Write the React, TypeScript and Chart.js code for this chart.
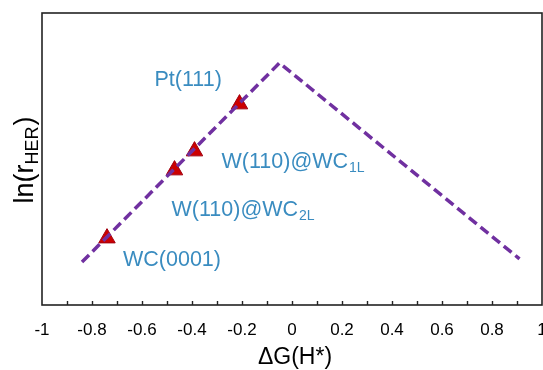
import React, { useEffect, useRef } from "react";
import { Chart, registerables } from "chart.js";

Chart.register(...registerables);

// Volcano (dashed) line: x = ΔG(H*), y = ln(r_HER) in arbitrary units
const volcanoX = [-0.84, -0.05, 0.91];
const volcanoY = [1.47, 8.29, 1.58];

// Catalyst points
const catalystNames = ["WC(0001)", "W(110)@WC2L", "W(110)@WC1L", "Pt(111)"];
const catalystX = [-0.74, -0.47, -0.39, -0.21];
const catalystY = [2.29, 4.62, 5.27, 6.88];

// label text: main part + subscript
const labelMain = ["WC(0001)", "W(110)@WC", "W(110)@WC", "Pt(111)"];
const labelSub = ["", "2L", "1L", ""];

const xTickLabels = ["-1", "-0.8", "-0.6", "-0.4", "-0.2", "0", "0.2", "0.4", "0.6", "0.8", "1"];

const FONT = "Arial, 'Liberation Sans', sans-serif";
const LABEL_COLOR = "#3a8cc0";

// label offsets (pixels, relative to each marker)
const labelOffsets = [
  [16, 28],
  [-3, 46],
  [27, 17],
  [-85, -18],
];

const decorPlugin = {
  id: "decor",
  afterDatasetsDraw(chart: any) {
    const ctx = chart.ctx;
    const a = chart.chartArea;
    const xs = chart.scales.x;
    ctx.save();
    // frame
    ctx.strokeStyle = "#222";
    ctx.lineWidth = 1.6;
    ctx.strokeRect(a.left, a.top, a.right - a.left, a.bottom - a.top);
    // inward minor ticks
    ctx.lineWidth = 1.4;
    for (let i = -9; i <= 9; i++) {
      const px = Math.round(xs.getPixelForValue(i / 10)) + 0.5;
      ctx.beginPath();
      ctx.moveTo(px, a.bottom);
      ctx.lineTo(px, a.bottom - 4);
      ctx.stroke();
    }
    // point labels
    const meta = chart.getDatasetMeta(1);
    ctx.fillStyle = LABEL_COLOR;
    ctx.textBaseline = "alphabetic";
    ctx.textAlign = "left";
    meta.data.forEach((el: any, i: number) => {
      const x = el.x + labelOffsets[i][0];
      const y = el.y + labelOffsets[i][1];
      ctx.font = `21.5px ${FONT}`;
      ctx.fillText(labelMain[i], x, y);
      if (labelSub[i]) {
        const w = ctx.measureText(labelMain[i]).width;
        ctx.font = `14px ${FONT}`;
        ctx.fillText(labelSub[i], x + w + 1, y + 4);
      }
    });
    // x title
    ctx.fillStyle = "#000";
    ctx.font = `23px ${FONT}`;
    ctx.textAlign = "center";
    ctx.fillText("ΔG(H*)", (a.left + a.right) / 2 + 3, 364);
    // y title (rotated, with subscript)
    ctx.translate(33, 160);
    ctx.rotate(-Math.PI / 2);
    ctx.textAlign = "left";
    const p1 = "ln(r";
    const p2 = "HER";
    const p3 = ")";
    ctx.font = `27px ${FONT}`;
    const w1 = ctx.measureText(p1).width;
    const w3 = ctx.measureText(p3).width;
    ctx.font = `18px ${FONT}`;
    const w2 = ctx.measureText(p2).width;
    const total = w1 + w2 + w3 + 1;
    let cx = -total / 2;
    ctx.font = `27px ${FONT}`;
    ctx.fillText(p1, cx, 0);
    cx += w1;
    ctx.font = `18px ${FONT}`;
    ctx.fillText(p2, cx, 5);
    cx += w2 + 1;
    ctx.font = `27px ${FONT}`;
    ctx.fillText(p3, cx, 0);
    ctx.restore();
  },
};

export default function App() {
  const ref = useRef<HTMLCanvasElement | null>(null);
  useEffect(() => {
    document.body.style.margin = "0";
    if (!ref.current) return;
    const chart = new Chart(ref.current, {
      type: "scatter",
      data: {
        datasets: [
          {
            type: "line",
            data: volcanoX.map((x, i) => ({ x, y: volcanoY[i] })),
            borderColor: "#7030a0",
            borderWidth: 3.5,
            borderDash: [10, 5],
            pointRadius: 0,
            fill: false,
            tension: 0,
            order: 0,
          } as any,
          {
            type: "scatter",
            data: catalystX.map((x, i) => ({ x, y: catalystY[i] })),
            pointStyle: "triangle",
            pointRadius: 9.5,
            backgroundColor: "#cc0000",
            borderColor: "#a00010",
            borderWidth: 1,
            order: 1,
          } as any,
        ],
      },
      options: {
        animation: false,
        responsive: false,
        maintainAspectRatio: false,
        layout: { autoPadding: false, padding: { top: 13, right: 1, left: 0, bottom: 0 } },
        plugins: { legend: { display: false }, tooltip: { enabled: false } },
        scales: {
          x: {
            type: "linear",
            min: -1,
            max: 1,
            grid: { display: false, drawTicks: false },
            border: { display: false },
            ticks: {
              stepSize: 0.2,
              padding: 15,
              color: "#000",
              font: { size: 17, family: FONT },
              callback: (_v: any, i: number) => xTickLabels[i],
            },
            afterFit: (s: any) => {
              s.height = 65;
              s.paddingLeft = 0;
              s.paddingRight = 0;
            },
          },
          y: {
            type: "linear",
            min: 0,
            max: 10,
            grid: { display: false, drawTicks: false },
            border: { display: false },
            ticks: { display: false },
            afterFit: (s: any) => {
              s.width = 42;
              s.paddingTop = 0;
              s.paddingBottom = 0;
            },
          },
        },
      },
      plugins: [decorPlugin],
    });
    return () => chart.destroy();
  }, []);
  return (
    <div style={{ width: 543, height: 370 }}>
      <canvas ref={ref} width={543} height={370} style={{ width: 543, height: 370 }} />
    </div>
  );
}
